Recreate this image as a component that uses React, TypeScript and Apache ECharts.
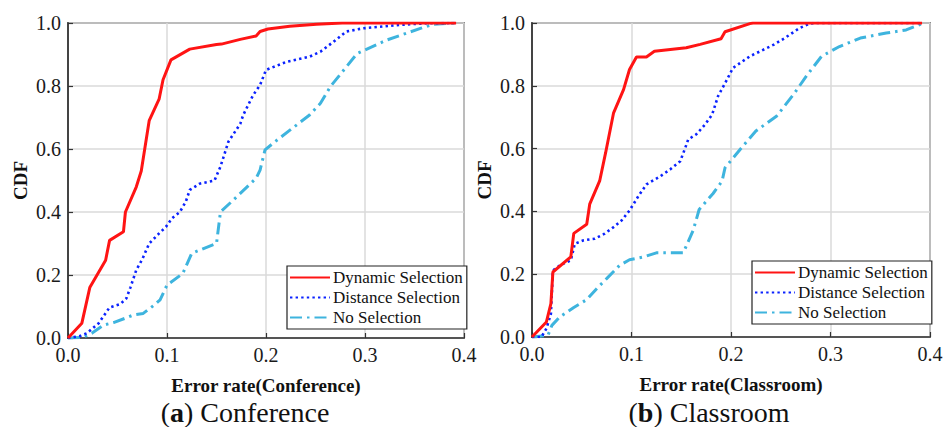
import React, { useEffect, useRef } from "react";
import * as echarts from "echarts";

const xTicks = [0, 0.1, 0.2, 0.3, 0.4];
const yTicks = [0, 0.2, 0.4, 0.6, 0.8, 1.0];
const seriesNames = ["Dynamic Selection", "Distance Selection", "No Selection"];
const xTitles = ["Error rate(Conference)", "Error rate(Classroom)"];
const captionLetters = ["a", "b"];
const captionWords = ["Conference", "Classroom"];

const confDynamic = [[0,0],[0.014,0.047],[0.022,0.16],[0.038,0.247],[0.042,0.31],[0.056,0.337],[0.058,0.40],[0.069,0.48],[0.074,0.53],[0.082,0.69],[0.092,0.758],[0.096,0.82],[0.104,0.883],[0.123,0.917],[0.150,0.932],[0.155,0.933],[0.174,0.948],[0.19,0.959],[0.194,0.973],[0.202,0.981],[0.224,0.99],[0.251,0.996],[0.277,1.0],[0.392,1.0]];
const confDistance = [[0,0],[0.012,0.006],[0.019,0.015],[0.031,0.047],[0.042,0.097],[0.053,0.108],[0.059,0.126],[0.063,0.16],[0.069,0.216],[0.075,0.25],[0.082,0.30],[0.092,0.332],[0.099,0.353],[0.105,0.38],[0.113,0.40],[0.119,0.433],[0.123,0.47],[0.133,0.49],[0.148,0.50],[0.154,0.544],[0.162,0.623],[0.174,0.68],[0.177,0.708],[0.187,0.771],[0.194,0.803],[0.20,0.851],[0.221,0.877],[0.244,0.893],[0.255,0.909],[0.268,0.94],[0.281,0.973],[0.298,0.983],[0.335,0.994],[0.362,0.999],[0.39,1.0],[0.392,1.0]];
const confNone = [[0,0],[0.015,0.002],[0.024,0.015],[0.036,0.041],[0.046,0.049],[0.058,0.063],[0.066,0.073],[0.076,0.078],[0.086,0.102],[0.093,0.121],[0.1,0.168],[0.116,0.205],[0.125,0.269],[0.15,0.30],[0.154,0.40],[0.167,0.438],[0.19,0.507],[0.194,0.533],[0.199,0.597],[0.209,0.623],[0.244,0.708],[0.255,0.745],[0.265,0.798],[0.292,0.903],[0.322,0.946],[0.356,0.983],[0.369,0.996],[0.392,1.0]];

const classDynamic = [[0,0],[0.0145,0.048],[0.019,0.106],[0.021,0.207],[0.039,0.255],[0.042,0.33],[0.055,0.359],[0.058,0.423],[0.068,0.497],[0.074,0.587],[0.082,0.714],[0.092,0.788],[0.098,0.852],[0.105,0.892],[0.115,0.892],[0.123,0.91],[0.155,0.921],[0.169,0.932],[0.19,0.95],[0.194,0.972],[0.219,0.998],[0.222,1.0],[0.392,1.0]];
const classDistance = [[0,0],[0.0095,0],[0.0145,0.027],[0.019,0.074],[0.021,0.212],[0.028,0.228],[0.039,0.244],[0.043,0.297],[0.052,0.308],[0.063,0.313],[0.073,0.329],[0.082,0.35],[0.09,0.371],[0.098,0.403],[0.107,0.449],[0.115,0.486],[0.129,0.512],[0.139,0.534],[0.149,0.56],[0.154,0.602],[0.157,0.629],[0.165,0.645],[0.174,0.677],[0.181,0.708],[0.187,0.767],[0.196,0.82],[0.202,0.857],[0.219,0.894],[0.243,0.931],[0.254,0.952],[0.269,0.984],[0.279,0.998],[0.284,1.0],[0.392,1.0]];
const classNone = [[0,0],[0.016,0.005],[0.02,0.037],[0.028,0.064],[0.042,0.094],[0.055,0.119],[0.065,0.154],[0.075,0.186],[0.088,0.228],[0.098,0.246],[0.112,0.255],[0.125,0.268],[0.152,0.268],[0.162,0.34],[0.168,0.406],[0.182,0.457],[0.191,0.496],[0.194,0.539],[0.212,0.608],[0.225,0.656],[0.246,0.704],[0.263,0.773],[0.276,0.832],[0.291,0.894],[0.309,0.925],[0.33,0.952],[0.356,0.968],[0.376,0.978],[0.392,0.998]];

const panels = [
  [confDynamic, confDistance, confNone],
  [classDynamic, classDistance, classNone],
];

const FONT = "Liberation Serif";
const styles = [
  { color: "#ff1414", width: 3, type: "solid" as any, cap: "butt" },
  { color: "#0a22ff", width: 2.6, type: [2.4, 3.2] as any, cap: "butt" },
  { color: "#3eb4de", width: 3, type: [12, 5, 2.5, 5] as any, cap: "butt" },
];

const grids = [
  { left: 68, top: 23, width: 396, height: 315 },
  { left: 532, top: 23, width: 398, height: 314 },
];
const legends = [
  { left: 287, top: 266 },
  { left: 752, top: 261 },
];

export default function App() {
  const ref = useRef<HTMLDivElement>(null);
  useEffect(() => {
    if (!ref.current) return;
    const chart = echarts.init(ref.current, undefined, { renderer: "svg" });
    const xAxis = grids.map((_, i) => ({
      type: "value",
      gridIndex: i,
      min: xTicks[0],
      max: xTicks[xTicks.length - 1],
      interval: 0.1,
      name: xTitles[i],
      nameLocation: "middle",
      nameGap: 38,
      nameTextStyle: { fontFamily: FONT, fontWeight: "bold", fontSize: 19, color: "#111" },
      axisLine: { show: true, onZero: false, lineStyle: { color: "#333", width: 1.5 } },
      axisTick: { show: true, inside: true, length: 5, lineStyle: { color: "#333", width: 1.2 } },
      axisLabel: { fontFamily: FONT, fontSize: 20, color: "#1a1a1a", margin: 7, formatter: (v: number) => v.toFixed(1) },
      splitLine: { show: true, lineStyle: { color: "#dadada", width: 1.5 } },
    }));
    const yAxis = grids.map((_, i) => ({
      type: "value",
      gridIndex: i,
      min: yTicks[0],
      max: yTicks[yTicks.length - 1],
      interval: 0.2,
      name: "CDF",
      nameLocation: "middle",
      nameGap: 38,
      nameRotate: 90,
      nameTextStyle: { fontFamily: FONT, fontWeight: "bold", fontSize: 19, color: "#111" },
      axisLine: { show: true, onZero: false, lineStyle: { color: "#444", width: 2 } },
      axisTick: { show: true, inside: true, length: 5, lineStyle: { color: "#333", width: 1.2 } },
      axisLabel: { fontFamily: FONT, fontSize: 20, color: "#1a1a1a", margin: 7, formatter: (v: number) => v.toFixed(1) },
      splitLine: { show: true, lineStyle: { color: "#dadada", width: 1.5 } },
    }));
    const series: any[] = [];
    panels.forEach((panel, pi) => {
      panel.forEach((data, si) => {
        const s = styles[si];
        series.push({
          type: "line",
          name: seriesNames[si],
          xAxisIndex: pi,
          yAxisIndex: pi,
          data,
          symbol: "none",
          showSymbol: false,
          z: 5 - si,
          lineStyle: { color: s.color, width: s.width, type: s.type, cap: s.cap },
          itemStyle: { color: s.color },
        });
      });
    });
    const legend = legends.map((l) => ({
      show: true,
      left: l.left,
      top: l.top,
      orient: "vertical",
      data: seriesNames,
      itemWidth: 40,
      itemHeight: 14,
      itemGap: 3,
      padding: [3, 4, 3, 2],
      backgroundColor: "#fff",
      borderColor: "#222",
      borderWidth: 1.2,
      borderRadius: 0,
      selectedMode: false,
      itemStyle: { opacity: 0, color: "transparent", borderWidth: 0 },
      textStyle: { fontFamily: FONT, fontSize: 17, color: "#111", padding: [0, 0, 0, -2] },
    }));
    const captionCenters = [245, 709];
    const graphic = captionCenters.map((cx, i) => ({
      type: "text",
      x: cx,
      y: 412,
      style: {
        text: `{p|(}{b|${captionLetters[i]}}{p|) ${captionWords[i]}}`,
        align: "center",
        verticalAlign: "middle",
        rich: {
          p: { fontFamily: FONT, fontSize: 28, fill: "#111" },
          b: { fontFamily: FONT, fontSize: 28, fontWeight: "bold", fill: "#111" },
        },
      },
    }));
    chart.setOption({
      animation: false,
      backgroundColor: "#fff",
      grid: grids.map((g) => ({ ...g, show: true, borderColor: "#333", borderWidth: 1.5, backgroundColor: "transparent" })),
      xAxis,
      yAxis,
      legend,
      series,
      graphic,
    });
    return () => chart.dispose();
  }, []);
  return <div ref={ref} style={{ position: "absolute", left: 0, top: 0, width: 946, height: 427 }} />;
}
